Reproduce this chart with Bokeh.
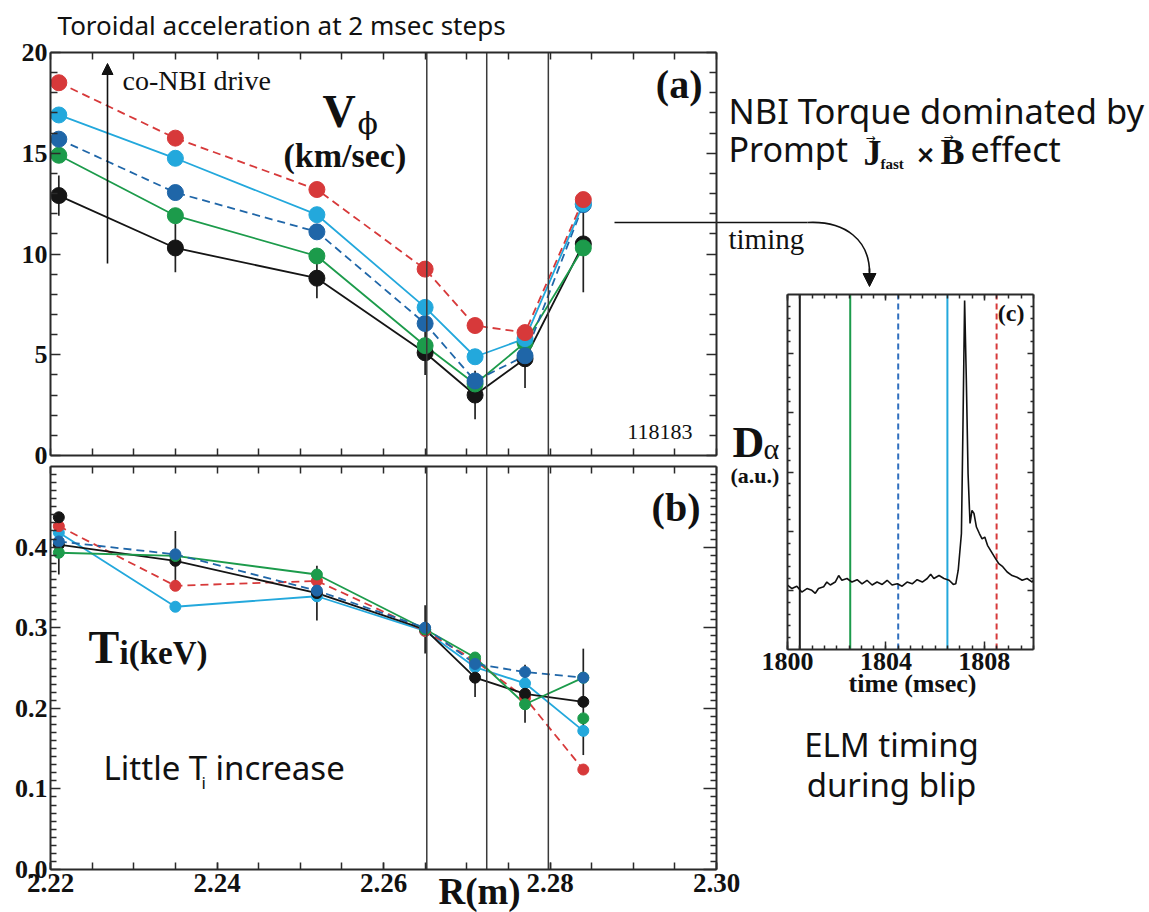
from bokeh.plotting import figure
from bokeh.models import Label, Arrow, NormalHead, FixedTicker, LinearAxis, Range1d, NumeralTickFormatter
from bokeh.embed import file_html
from bokeh.resources import INLINE

# ---------------- data ----------------
R_M = [2.221, 2.235, 2.252, 2.265, 2.271, 2.277, 2.284]

VPHI_BLACK = [12.9, 10.3, 8.8, 5.1, 3.0, 4.8, 10.5]
VPHI_GREEN = [14.9, 11.9, 9.9, 5.45, 3.55, 5.6, 10.3]
VPHI_DARKBLUE = [15.7, 13.05, 11.1, 6.55, 3.7, 4.95, 12.45]
VPHI_CYAN = [16.9, 14.75, 11.95, 7.35, 4.9, 5.8, 12.5]
VPHI_RED = [18.5, 15.75, 13.2, 9.25, 6.45, 6.1, 12.7]
VPHI_BLACK_ERR = [1.0, 1.2, 1.0, 1.1, 1.2, 1.45, 2.4]

TI_BLACK = [0.403, 0.383, 0.343, 0.298, 0.238, 0.218, 0.208]
TI_GREEN = [0.393, 0.389, 0.366, 0.298, 0.263, 0.205, 0.238]
TI_DARKBLUE = [0.407, 0.391, 0.346, 0.300, 0.255, 0.245, 0.238]
TI_CYAN = [0.418, 0.326, 0.339, 0.296, 0.251, 0.231, 0.172]
TI_RED = [0.426, 0.352, 0.358, 0.296, 0.259, 0.213, 0.124]
TI_BLACK_ERR = [0.037, 0.037, 0.034, 0.030, 0.024, 0.036, 0.066]
TI_EXTRA_R = [2.221, 2.284]
TI_EXTRA_V = [0.437, 0.1875]
TI_EXTRA_SERIES = ["black", "green"]

BOUNDARY_R = [2.2652, 2.2724, 2.2798]

DA_T = [1800.0, 1800.18, 1800.38, 1800.58, 1800.79, 1800.99, 1801.13, 1801.26, 1801.47, 1801.6,
        1801.74, 1801.94, 1802.08, 1802.21, 1802.42, 1802.62, 1802.83, 1803.03, 1803.23, 1803.44,
        1803.64, 1803.85, 1804.05, 1804.25, 1804.46, 1804.66, 1804.86, 1805.07, 1805.27, 1805.48,
        1805.68, 1805.82, 1805.95, 1806.16, 1806.36, 1806.57, 1806.74, 1806.84, 1806.94, 1807.07,
        1807.13, 1807.2, 1807.27, 1807.34, 1807.42, 1807.5, 1807.58, 1807.68, 1807.8, 1807.91,
        1808.02, 1808.13, 1808.29, 1808.45, 1808.59, 1808.75, 1808.93, 1809.13, 1809.33, 1809.54,
        1809.74, 1809.95, 1810.0]
DA_V = [1.09, 1.03, 1.07, 0.97, 1.03, 1.00, 0.95, 1.03, 1.06, 1.14,
        1.09, 1.14, 1.25, 1.17, 1.20, 1.14, 1.18, 1.11, 1.17, 1.09,
        1.14, 1.10, 1.17, 1.09, 1.11, 1.07, 1.14, 1.11, 1.18, 1.14,
        1.20, 1.27, 1.20, 1.25, 1.20, 1.17, 1.10, 1.11, 1.34, 1.96,
        3.70, 5.90, 4.55, 2.97, 2.13, 2.35, 2.30, 2.07, 1.96, 1.87,
        1.90, 1.76, 1.65, 1.54, 1.45, 1.40, 1.31, 1.25, 1.22, 1.17,
        1.20, 1.14, 1.17]

ELM_LINE_T = [1800.5, 1802.55, 1804.5, 1806.5, 1808.5]
ELM_LINE_SERIES = ["black", "green", "darkblue", "cyan", "red"]

A_YTICKS = [0, 5, 10, 15, 20]
A_YMINOR = [k for k in range(21) if k % 5]
R_TICKS_ALL = [round(2.22 + 0.005 * k, 3) for k in range(17)]
R_LABEL_TICKS = [2.22, 2.24, 2.26, 2.28, 2.30]
B_YTICKS = [0.0, 0.1, 0.2, 0.3, 0.4]
B_YMINOR = [round(0.01 * k, 2) for k in range(50) if k % 10]
C_XTICKS = [1800, 1804, 1808]
C_XMINOR = [1800 + 0.5 * k for k in range(21)]
C_YTICKS = [1, 2, 3, 4, 5]
C_YMINOR = [round(0.2 * k, 1) for k in range(31) if k % 5]

# ---------------- style ----------------
SERIES = ["black", "green", "darkblue", "cyan", "red"]
COLOR = {"black": "#151515", "green": "#1c9b4b", "darkblue": "#1f66a8",
         "cyan": "#23a8dc", "red": "#d7393a"}
DASH = {"black": "solid", "green": "solid", "darkblue": "8 5", "cyan": "solid", "red": "8 5"}
VPHI = {"black": VPHI_BLACK, "green": VPHI_GREEN, "darkblue": VPHI_DARKBLUE,
        "cyan": VPHI_CYAN, "red": VPHI_RED}
TI = {"black": TI_BLACK, "green": TI_GREEN, "darkblue": TI_DARKBLUE,
      "cyan": TI_CYAN, "red": TI_RED}
ELM_COLOR = {"black": "#1a1a1a", "green": "#1c9b4b", "darkblue": "#2f6fbf",
             "cyan": "#23a8dc", "red": "#d7393a"}
ELM_DASH = {"black": "solid", "green": "solid", "darkblue": "6 4", "cyan": "solid", "red": "6 4"}

SERIF = "Liberation Serif"
SANS = "Noto Sans"
AXC = "#2a2a2a"
INK = "#111111"
# empirical shift between the wanted baseline and where the text lands
BASE_SHIFT = {SERIF: 0.33, SANS: 0.39, "DejaVu Serif": 0.33, "DejaVu Sans": 0.33}

W, H = 1149, 912
# page-pixel geometry of the three panel boxes
AX0, AX1, AY0, AY1 = 50, 716, 52, 455
BY0, BY1 = 466, 869
CX0, CX1, CY0, CY1 = 787, 1033, 294, 649


def R_of(px):
    return 2.22 + (px - AX0) * 0.08 / (AX1 - AX0)


def V_of(py):
    return (AY1 - py) * 20.0 / (AY1 - AY0)


def TB_of(py):
    return (BY1 - py) * 0.5 / (BY1 - BY0)


def T_of(px):
    return 1800 + (px - CX0) * 10.0 / (CX1 - CX0)


def D_of(py):
    return (CY1 - py) * 6.0 / (CY1 - CY0)


p = figure(width=W, height=H, x_range=(0, W), y_range=(H, 0),
           output_backend="svg", toolbar_location=None,
           x_axis_location=None, y_axis_location=None,
           min_border=0, min_border_left=0, min_border_right=0,
           min_border_top=0, min_border_bottom=0,
           outline_line_color=None, background_fill_color="white",
           border_fill_color="white")
p.grid.visible = False
p.extra_x_ranges = {"ra": Range1d(R_of(0), R_of(W)), "tc": Range1d(T_of(0), T_of(W))}
p.extra_y_ranges = {"va": Range1d(V_of(H), V_of(0)), "tb": Range1d(TB_of(H), TB_of(0)),
                    "dc": Range1d(D_of(H), D_of(0))}


def axis(side, xr, yr, loc, bounds, ticks, minor, labels=False, size="26px", standoff=3,
         major_in=9, minor_in=6, fmt=None):
    ax = LinearAxis(x_range_name=xr, y_range_name=yr, fixed_location=loc, bounds=bounds)
    ax.ticker = FixedTicker(ticks=ticks, minor_ticks=minor)
    ax.major_tick_in = major_in
    ax.major_tick_out = 0
    ax.minor_tick_in = minor_in
    ax.minor_tick_out = 0
    ax.axis_line_color = AXC
    ax.axis_line_width = 2
    ax.major_tick_line_color = AXC
    ax.major_tick_line_width = 1.5
    ax.minor_tick_line_color = AXC
    ax.minor_tick_line_width = 1.5
    if labels:
        ax.major_label_text_font = SERIF
        ax.major_label_text_font_style = "bold"
        ax.major_label_text_font_size = size
        ax.major_label_text_color = INK
        ax.major_label_standoff = standoff
        if fmt:
            ax.formatter = NumeralTickFormatter(format=fmt)
    else:
        ax.major_label_text_color = None
    p.add_layout(ax, side)


# panel (a) box
axis("left", "ra", "va", 2.22, (0, 20), A_YTICKS, A_YMINOR, True, "26px", 3, 10, 7)
axis("right", "ra", "va", 2.30, (0, 20), A_YTICKS, A_YMINOR, False, major_in=10, minor_in=7)
axis("below", "ra", "va", 0, (2.22, 2.30), R_TICKS_ALL, [], False, major_in=7)
axis("above", "ra", "va", 20, (2.22, 2.30), R_TICKS_ALL, [], False, major_in=7)
# panel (b) box
axis("left", "ra", "tb", 2.22, (0, 0.5), B_YTICKS, B_YMINOR, True, "26px", 3, 10, 6, fmt="0.0")
axis("right", "ra", "tb", 2.30, (0, 0.5), B_YTICKS, B_YMINOR, False, major_in=13, minor_in=6)
axis("below", "ra", "tb", 0, (2.22, 2.30), R_LABEL_TICKS, R_TICKS_ALL, True, "27px", 4, 7, 7, fmt="0.00")
axis("above", "ra", "tb", 0.5, (2.22, 2.30), R_TICKS_ALL, [], False, major_in=7)
# panel (c) box
axis("left", "tc", "dc", 1800, (0, 6), C_YTICKS, C_YMINOR, False, major_in=6, minor_in=3)
axis("right", "tc", "dc", 1810, (0, 6), C_YTICKS, C_YMINOR, False, major_in=6, minor_in=3)
axis("below", "tc", "dc", 0, (1800, 1810), C_XTICKS, C_XMINOR, True, "26px", 3, 8, 4, fmt="0")
axis("above", "tc", "dc", 6, (1800, 1810), C_XTICKS, C_XMINOR, False, major_in=6, minor_in=4)

# ---------------- panel (a) data ----------------
A = dict(x_range_name="ra", y_range_name="va")
p.segment(x0=R_M, y0=[v - e for v, e in zip(VPHI_BLACK, VPHI_BLACK_ERR)],
          x1=R_M, y1=[v + e for v, e in zip(VPHI_BLACK, VPHI_BLACK_ERR)],
          line_color="#222222", line_width=1.7, **A)
for s in SERIES:
    p.line(R_M, VPHI[s], line_color=COLOR[s], line_width=1.8, line_dash=DASH[s], **A)
for s in SERIES:
    p.scatter(R_M, VPHI[s], size=16, fill_color=COLOR[s], line_color=COLOR[s], **A)
p.segment(x0=BOUNDARY_R, y0=[0] * len(BOUNDARY_R), x1=BOUNDARY_R, y1=[20] * len(BOUNDARY_R),
          line_color="#3a3a3a", line_width=1.5, **A)

# ---------------- panel (b) data ----------------
B = dict(x_range_name="ra", y_range_name="tb")
p.segment(x0=R_M, y0=[v - e for v, e in zip(TI_BLACK, TI_BLACK_ERR)],
          x1=R_M, y1=[v + e for v, e in zip(TI_BLACK, TI_BLACK_ERR)],
          line_color="#222222", line_width=1.7, **B)
B_ORDER = ["cyan", "red", "black", "green", "darkblue"]
for s in B_ORDER:
    p.line(R_M, TI[s], line_color=COLOR[s], line_width=1.8, line_dash=DASH[s], **B)
for s in B_ORDER:
    p.scatter(R_M, TI[s], size=11, fill_color=COLOR[s], line_color=COLOR[s], **B)
p.scatter(TI_EXTRA_R, TI_EXTRA_V, size=11,
          fill_color=[COLOR[s] for s in TI_EXTRA_SERIES],
          line_color=[COLOR[s] for s in TI_EXTRA_SERIES], **B)
p.segment(x0=BOUNDARY_R, y0=[0] * len(BOUNDARY_R), x1=BOUNDARY_R, y1=[0.5] * len(BOUNDARY_R),
          line_color="#3a3a3a", line_width=1.5, **B)

# ---------------- panel (c) data ----------------
C = dict(x_range_name="tc", y_range_name="dc")
for t, s in zip(ELM_LINE_T, ELM_LINE_SERIES):
    p.segment(x0=[t], y0=[0], x1=[t], y1=[6], line_color=ELM_COLOR[s], line_width=2,
              line_dash=ELM_DASH[s], **C)
p.line(DA_T, DA_V, line_color=INK, line_width=1.6, **C)


# ---------------- texts (page pixel coordinates, py = wanted baseline) ----------------
def put(px, py, text, size, font=SERIF, style="bold", align="left"):
    y = py - BASE_SHIFT.get(font, 0.33) * size
    p.add_layout(Label(x=px, y=y, text=text, text_font=font, text_font_style=style,
                       text_font_size=f"{size}px", text_align=align, text_baseline="alphabetic",
                       text_color=INK))


put(57, 35, "Toroidal acceleration at 2 msec steps", 26, SANS, "normal")
put(122, 89, "co-NBI drive", 28, SERIF, "normal")
put(322, 126, "V", 46)
put(357, 133, "\u03d5", 30, "DejaVu Serif", "normal")
put(283, 166, "(km/sec)", 34)
put(702, 97, "(a)", 40, align="right")
put(692, 439, "118183", 22, style="normal", align="right")

put(700, 520, "(b)", 40, align="right")
put(88, 662, "T", 46)
put(119, 663, "i(keV)", 33)
put(103, 780, "Little T", 33, SANS, "normal")
put(201, 789, "i", 17, SANS, "normal")
put(215, 780, "increase", 33, SANS, "normal")
put(438, 903, "R(m)", 37)

put(1024, 320, "(c)", 24, align="right")
put(732, 457, "D", 44)
put(763, 458, "\u03b1", 30, SERIF, "normal")
put(730, 482, "(a.u.)", 22)
put(912, 692, "time (msec)", 26, align="center")
put(891, 757, "ELM timing", 33, SANS, "normal", align="center")
put(891, 797, "during blip", 33, SANS, "normal", align="center")

put(728, 123, "NBI Torque dominated by", 34.5, SANS, "normal")
put(728, 162, "Prompt", 34, SANS, "normal")
put(863, 164, "J", 36)
put(865, 141, "\u2192", 12, "DejaVu Sans", "normal")
put(880, 168, "fast", 15)
put(915, 162, "\u00d7", 24, "DejaVu Sans", "bold")
put(940, 163, "B", 36)
put(943, 140, "\u2192", 12, "DejaVu Sans", "normal")
put(970, 162, "effect", 34, SANS, "normal")
put(728, 248, "timing", 29, SERIF, "normal")

# co-NBI drive arrow
p.add_layout(Arrow(end=NormalHead(size=11, fill_color=INK, line_color=INK), start=None,
                   x_start=107, y_start=263, x_end=107, y_end=63,
                   line_color=INK, line_width=1.6))
# connector from panel (a) to panel (c)
p.segment(x0=[614], y0=[222], x1=[807], y1=[222], line_color=INK, line_width=1.6)
p.bezier(x0=[807], y0=[222], x1=[869], y1=[272], cx0=[845], cy0=[220], cx1=[869], cy1=[240],
         line_color=INK, line_width=1.6)
p.add_layout(Arrow(end=NormalHead(size=13, fill_color=INK, line_color=INK), start=None,
                   x_start=869, y_start=268, x_end=869, y_end=286,
                   line_color=INK, line_width=1.6))

open("out.html", "w").write(file_html(p, INLINE))
